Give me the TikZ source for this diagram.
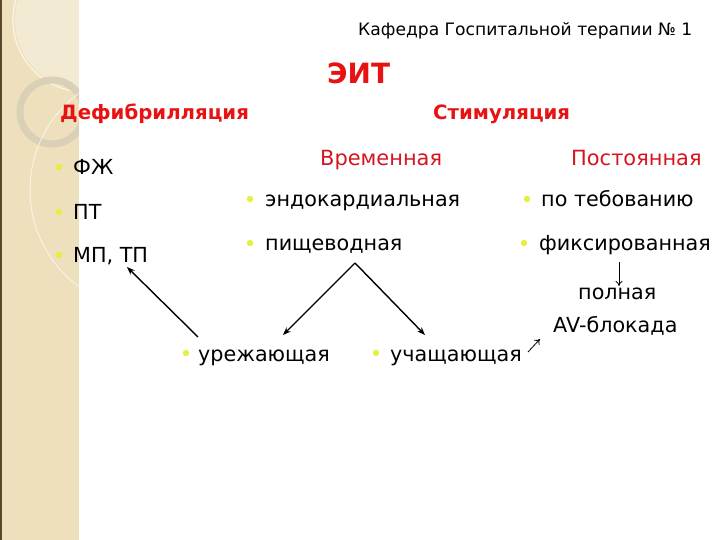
\documentclass[tikz,border=0pt]{standalone}
\usepackage{fontspec}
\setmainfont{DejaVu Sans}
\usetikzlibrary{arrows.meta}
\definecolor{strip}{RGB}{238,224,188}
\definecolor{stripedge}{RGB}{90,72,45}
\definecolor{ringc}{RGB}{218,208,184}
\definecolor{titlered}{RGB}{232,18,18}
\definecolor{subred}{RGB}{214,20,32}
\definecolor{bul}{RGB}{228,240,60}
\begin{document}
\begin{tikzpicture}[x=1bp,y=-1bp,
  txt/.style={anchor=base west,inner sep=0pt,font=\fontsize{20.8}{24}\selectfont},
  head/.style={anchor=base west,inner sep=0pt,text=titlered,font=\bfseries\fontsize{19.8}{22}\selectfont},
  sub/.style={anchor=base west,inner sep=0pt,text=subred,font=\fontsize{21}{24}\selectfont},
  dot/.style={fill=bul,draw=none},
  arr/.style={-{Stealth[length=8bp,width=6bp]},line width=1.4bp,black},
  thin arr/.style={-{To[length=5bp,width=7bp]},line width=0.8bp,black}]
\useasboundingbox (0,0) rectangle (720,540);
\fill[white] (0,0) rectangle (720,540);
% left strip
\fill[strip] (0,0) rectangle (79,540);
\begin{scope}
\clip (0,0) rectangle (79,540);
\fill[white,opacity=0.35] (85,20) circle (70);
\draw[white,opacity=0.7,line width=1.2bp] (85,20) circle (72);
\draw[ringc,line width=7bp] (52,112) circle (32);
\draw[white,opacity=0.6,line width=1bp] (150,190) circle (120);
\end{scope}
\fill[stripedge] (0,0) rectangle (2,540);
% header
\node[anchor=base west,inner sep=0pt,font=\fontsize{17.2}{19}\selectfont] (kaf) at (358,36) {Кафедра Госпитальной терапии № 1};
\node[anchor=base west,inner sep=0pt,text=titlered,font=\bfseries\fontsize{28}{30}\selectfont] (eit) at (327,84) {ЭИТ};
\node[head] (defib) at (60,120) {Дефибрилляция};
\node[head] (stim) at (433,120) {Стимуляция};
\node[sub] (vrem) at (320,166) {Временная};
\node[sub] (post) at (571,166) {Постоянная};
% left list
\node[txt] (fzh) at (73,175) {ФЖ};
\node[txt] (pt) at (73,220) {ПТ};
\node[txt] (mp) at (73,263) {МП, ТП};
% middle list
\node[txt] (endo) at (265,207) {эндокардиальная};
\node[txt] (pisch) at (265,251) {пищеводная};
% right list
\node[txt] (potreb) at (541,207) {по тебованию};
\node[txt] (fiks) at (539,251) {фиксированная};
% bottom
\node[txt] (urez) at (198,361) {урежающая};
\node[txt] (uchas) at (390,361) {учащающая};
\node[txt] (poln) at (578,299) {полная};
\node[txt] (avb) at (553,332) {AV-блокада};
% bullets
\foreach \n/\dx in {fzh/14,pt/14,mp/14,endo/15,pisch/15,potreb/14,fiks/15,urez/12,uchas/14}
  \fill[dot] ([xshift=-\dx bp,yshift=8bp]\n.base west) circle (3.2bp);
% arrows
\coordinate (apex) at (355,263);
\coordinate (mpend) at (127,267);
\coordinate (urstart) at (198,337);
\coordinate (urend) at (283,335);
\coordinate (ucend) at (425,335);
\coordinate (fkstart) at (619,262);
\coordinate (fkend) at (619,286);
\coordinate (smstart) at (528,352);
\coordinate (smend) at (540,339);
\draw[arr] (urstart) -- (mpend);
\draw[arr] (apex) -- (urend);
\draw[arr] (apex) -- (ucend);
\draw[thin arr] (fkstart) -- (fkend);
\draw[thin arr] (smstart) -- (smend);
\end{tikzpicture}
\end{document}
